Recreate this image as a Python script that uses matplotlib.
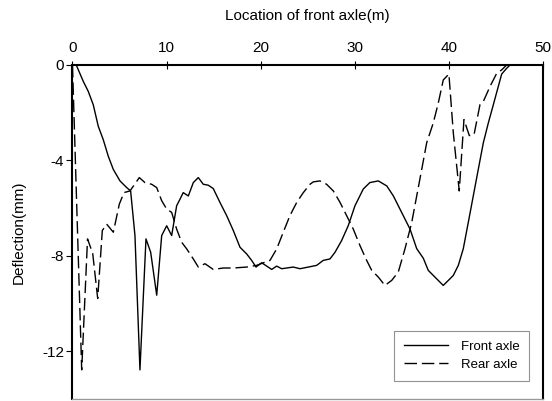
import matplotlib
matplotlib.use('Agg')
import matplotlib.pyplot as plt

plt.rcParams['font.family'] = ['Liberation Sans', 'DejaVu Sans']
plt.rcParams['axes.unicode_minus'] = False

# 前轴位置(m) 与 挠度(mm)
front_x = [0, 0.4, 1.15, 1.68, 2.21, 2.74, 3.27, 3.80, 4.34, 5.05, 5.76, 6.18,
           6.64, 7.17, 7.81, 8.31, 8.95, 9.48, 10.01, 10.54, 11.07, 11.42, 11.77,
           12.31, 12.84, 13.37, 13.9, 14.43, 14.96, 15.67, 16.39, 17.09, 17.8,
           18.51, 19.04, 19.5, 20.1, 20.64, 21.17, 21.7, 22.23, 23.46, 24.18,
           25.95, 26.65, 27.36, 27.9, 28.6, 29.3, 30.02, 30.9, 31.6, 32.5, 33.4,
           34.1, 34.8, 35.87, 36.58, 37.28, 37.81, 38.34, 38.87, 39.4, 39.94,
           40.47, 41.0, 41.53, 42.06, 42.59, 43.12, 43.66, 44.19, 44.72, 45.25,
           45.61, 46.14, 46.5, 47.0]
front_y = [0, 0, -0.69, -1.11, -1.67, -2.57, -3.13, -3.82, -4.38, -4.86, -5.14,
           -5.28, -7.15, -12.78, -7.29, -7.85, -9.65, -7.15, -6.74, -7.15, -5.9,
           -5.63, -5.35, -5.49, -4.93, -4.72, -5.0, -5.04, -5.18, -5.76, -6.32,
           -6.94, -7.64, -7.92, -8.19, -8.47, -8.29, -8.43, -8.57, -8.43, -8.54,
           -8.47, -8.54, -8.4, -8.19, -8.13, -7.85, -7.36, -6.74, -5.9, -5.2,
           -4.93, -4.86, -5.07, -5.49, -6.04, -6.88, -7.7, -8.1, -8.61, -8.82,
           -9.03, -9.24, -9.03, -8.82, -8.4, -7.7, -6.6, -5.49, -4.38, -3.26,
           -2.43, -1.67, -0.9, -0.38, -0.14, 0, 0]

rear_x = [0, 0.98, 1.6, 2.15, 2.68, 3.17, 3.63, 4.34, 4.98, 5.47, 6.11, 7.1,
          7.7, 8.41, 8.95, 9.48, 10.01, 10.54, 11.07, 11.6, 12.14, 12.84, 13.37,
          14.08, 14.96, 16.03, 17.09, 18.51, 19.57, 20.28, 20.99, 21.7, 22.4,
          23.1, 23.83, 24.53, 25.24, 25.59, 26.3, 27.0, 27.72, 28.43, 29.14,
          29.84, 30.55, 31.26, 31.8, 32.5, 33.2, 33.92, 34.62, 35.33, 36.05,
          36.58, 37.11, 37.64, 38.34, 38.87, 39.4, 40.0, 40.47, 41.1, 41.6,
          42.17, 42.67, 43.3, 43.66, 44.37, 45.08, 45.6, 46.14, 47.0]
rear_y = [0, -12.78, -7.29, -7.9, -9.79, -6.94, -6.67, -7.01, -5.83, -5.35,
          -5.28, -4.72, -4.93, -5.0, -5.14, -5.69, -6.04, -6.18, -6.88, -7.43,
          -7.71, -8.13, -8.47, -8.33, -8.57, -8.51, -8.51, -8.47, -8.4, -8.29,
          -8.19, -7.71, -7.01, -6.32, -5.76, -5.35, -5.0, -4.9, -4.86, -5.0,
          -5.28, -5.76, -6.32, -6.88, -7.57, -8.19, -8.61, -8.89, -9.24, -9.03,
          -8.68, -7.71, -6.6, -5.49, -4.38, -3.26, -2.43, -1.6, -0.63, -0.38,
          -2.85, -5.28, -2.29, -2.96, -2.92, -1.67, -1.53, -0.9, -0.35, -0.21,
          0, 0]

x_ticks = [0, 10, 20, 30, 40, 50]
y_ticks = [0, -4, -8, -12]

fig = plt.figure(figsize=(5.52, 4.01), dpi=100)
ax = fig.add_axes([0.1313, 0.005, 0.8524, 0.833])

ax.plot(front_x, front_y, color='black', lw=1.0, label='Front axle')
ax.plot(rear_x, rear_y, color='black', lw=1.0, linestyle=(0, (9, 3.5)),
        label='Rear axle')

ax.set_xlim(0, 50)
ax.set_ylim(-14, 0)
ax.set_xticks(x_ticks)
ax.set_yticks(y_ticks)
ax.xaxis.tick_top()
ax.xaxis.set_label_position('top')
ax.tick_params(axis='x', direction='inout', length=6, width=0.8,
               labelsize=11, pad=4)
ax.tick_params(axis='y', direction='out', length=4, width=0.8,
               labelsize=11, pad=2)
ax.set_xlabel('Location of front axle(m)', fontsize=11, labelpad=15)
ax.set_ylabel('Deflection(mm)', fontsize=11, labelpad=12)

for s in ['top', 'left', 'right']:
    ax.spines[s].set_linewidth(1.5)
    ax.spines[s].set_color('black')
ax.spines['bottom'].set_color('#999999')
ax.spines['bottom'].set_linewidth(1.0)

leg = ax.legend(loc='lower right', bbox_to_anchor=(0.985, 0.035), fontsize=9.5,
                frameon=True, fancybox=False, handlelength=3.3,
                handletextpad=1.0, borderpad=0.75, labelspacing=0.45)
leg.get_frame().set_edgecolor('#777777')
leg.get_frame().set_linewidth(0.8)

plt.savefig('out.png', dpi=100)
